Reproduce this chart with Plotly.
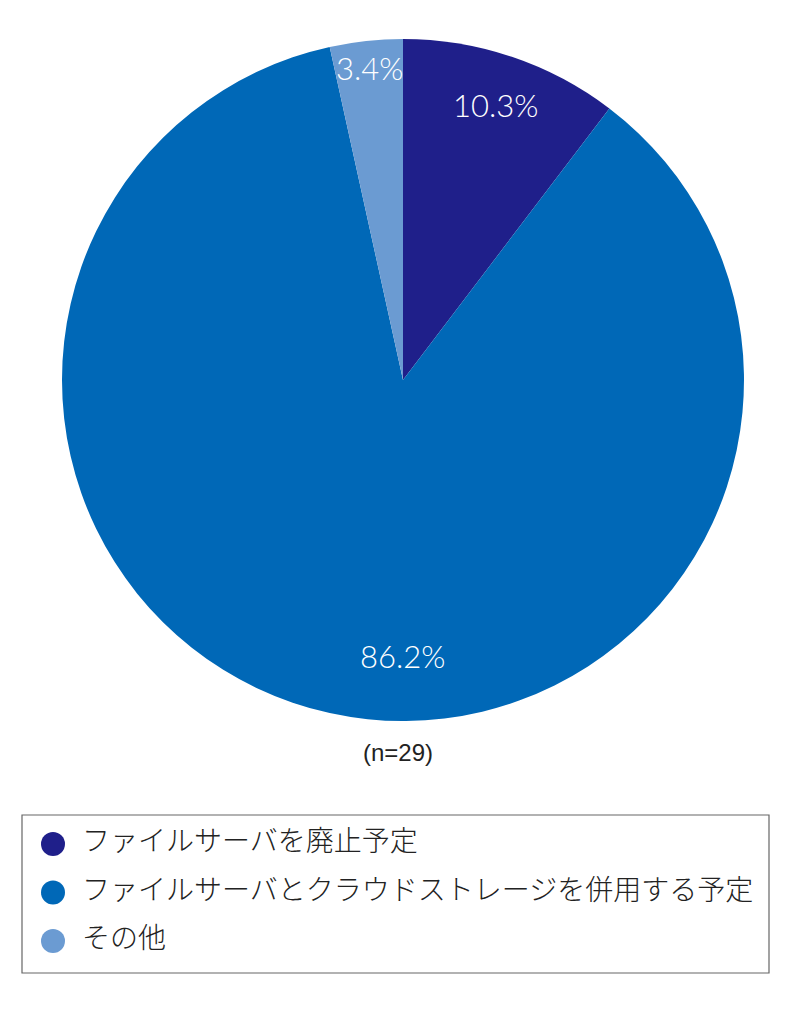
import math
import plotly.graph_objects as go

# data (n=29)
labels = ["ファイルサーバを廃止予定",
          "ファイルサーバとクラウドストレージを併用する予定",
          "その他"]
counts = [3, 25, 1]
colors = ["#1f1f8a", "#0068b7", "#6b9bd2"]
rows = [0, 1, 2]

# where the percentage labels sit: fraction of radius, angle shift from the slice middle
label_r = [0.85, 0.81, 0.92]
label_shift = [0, -12.4, 0]

# page body has an 8px margin, so the figure is drawn 8px smaller and shifted
OFF = 8
W, H = 800 - OFF, 1026 - OFF


def px(x):
    return (x - OFF) / W


def py(y):
    return (H - (y - OFF)) / H


CX, CY, R = 403, 380, 341

total = sum(counts)
pct = [c / total for c in counts]
mid_angle = []
acc = 0
for c in counts:
    mid_angle.append((acc + c / 2) / total * 360)
    acc += c

pie_dom = dict(x=[px(CX - R), px(CX + R)], y=[py(CY + R), py(CY - R)])

fig = go.Figure()

fig.add_trace(go.Pie(
    labels=labels,
    values=counts,
    sort=False,
    direction="clockwise",
    rotation=0,
    marker=dict(colors=colors, line=dict(width=0)),
    textinfo="none",
    domain=pie_dom,
    showlegend=False,
    hoverinfo="label+percent",
))

# legend drawn as scatters on their own axes
fig.add_trace(go.Scatter(
    x=[0.0415] * len(labels),
    y=rows,
    mode="markers",
    marker=dict(size=24, color=colors),
    xaxis="x2", yaxis="y2",
    showlegend=False,
    hoverinfo="skip",
))
fig.add_trace(go.Scatter(
    x=[0.0803] * len(labels),
    y=rows,
    mode="text",
    text=labels,
    textposition="middle right",
    textfont=dict(family="Noto Sans CJK JP", size=28, color="#222222", weight=300),
    xaxis="x2", yaxis="y2",
    showlegend=False,
    hoverinfo="skip",
))

annotations = []
for p, a, s, r in zip(pct, mid_angle, label_shift, label_r):
    t = math.radians(a + s)
    x = CX + r * R * math.sin(t)
    y = CY - r * R * math.cos(t)
    annotations.append(dict(text=f"{p * 100:.1f}%", x=px(x), y=py(y),
                            xref="paper", yref="paper", showarrow=False,
                            xanchor="center", yanchor="middle",
                            font=dict(family="Lato", size=31, color="white", weight=300)))

annotations.append(dict(text="(n=29)", x=px(398), y=py(752),
                        xref="paper", yref="paper", showarrow=False,
                        xanchor="center", yanchor="middle",
                        font=dict(family="Liberation Sans", size=24, color="#222222")))

fig.update_layout(
    width=W, height=H,
    margin=dict(l=0, r=0, t=0, b=0),
    paper_bgcolor="white",
    plot_bgcolor="white",
    xaxis2=dict(domain=[px(22), px(769)], range=[0, 1], visible=False,
                fixedrange=True),
    yaxis2=dict(domain=[py(973), py(815)], range=[2.66, -0.6],
                visible=False, fixedrange=True),
    shapes=[dict(type="rect", xref="paper", yref="paper",
                 x0=px(22), x1=px(769), y0=py(973), y1=py(815),
                 line=dict(color="#666666", width=1.2), fillcolor="rgba(0,0,0,0)")],
    annotations=annotations,
)

fig.write_html("out.html")
